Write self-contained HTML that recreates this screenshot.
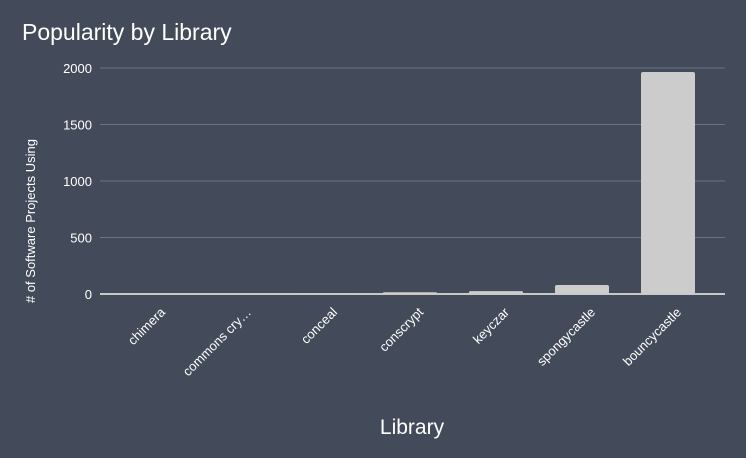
<!DOCTYPE html>
<html><head><meta charset="utf-8"><style>
html,body{margin:0;padding:0;background:#434a59;}
svg{display:block;font-family:"Liberation Sans",sans-serif;}
</style></head><body>
<svg id="chart" width="746" height="458">
<rect width="746" height="458" fill="#434a59"/>
<text x="22" y="40" fill="#ffffff" font-size="23">Popularity by Library</text>
<text transform="translate(35,221) rotate(-90)" text-anchor="middle" fill="#ffffff" font-size="13"># of Software Projects Using</text>
<text x="412" y="434" text-anchor="middle" fill="#ffffff" font-size="21">Library</text>
<g id="grid"></g><g id="bars"></g><g id="xlabels"></g>
</svg>
<script>
const categories = ["chimera","commons cry…","conceal","conscrypt","keyczar","spongycastle","bouncycastle"];
const values = [1, 1, 2, 15, 25, 80, 1965];
const yTicks = [0, 500, 1000, 1500, 2000];

const ns = "http://www.w3.org/2000/svg";
const gridLeft = 100, gridRight = 725;
const bandLeft = 109, bandRight = 711, plotTop = 68, plotBase = 294, yMax = 2000;
const yScale = v => plotBase - (v / yMax) * (plotBase - plotTop);
const step = (bandRight - bandLeft) / categories.length;
const xScale = i => bandLeft + step * (i + 0.5);
const barW = 54;

const grid = document.getElementById('grid');
yTicks.forEach(t => {
  const l = document.createElementNS(ns, 'line');
  l.setAttribute('x1', gridLeft); l.setAttribute('x2', gridRight);
  l.setAttribute('y1', yScale(t)); l.setAttribute('y2', yScale(t));
  l.setAttribute('stroke', t === 0 ? '#c8c8c8' : '#6b7283');
  l.setAttribute('stroke-width', t === 0 ? 2 : 1);
  
  
  grid.appendChild(l);
  const tx = document.createElementNS(ns, 'text');
  tx.setAttribute('x', 92); tx.setAttribute('y', yScale(t) + 5);
  tx.setAttribute('text-anchor', 'end'); tx.setAttribute('fill', '#ffffff');
  tx.setAttribute('font-size', '13');
  tx.textContent = t;
  
  
  grid.appendChild(tx);
});

const bars = document.getElementById('bars');
const xl = document.getElementById('xlabels');
categories.forEach((c, i) => {
  const h = plotBase - yScale(values[i]);
  const r = document.createElementNS(ns, 'rect');
  r.setAttribute('x', xScale(i) - barW / 2); r.setAttribute('y', yScale(values[i]));
  r.setAttribute('width', barW); r.setAttribute('height', Math.max(h, 0));
  r.setAttribute('rx', Math.min(2, h / 2));
  r.setAttribute('fill', '#cccccc');
  
  
  bars.appendChild(r);
  const t = document.createElementNS(ns, 'text');
  const ax = xScale(i) + 14, ay = 313;
  t.setAttribute('transform', `translate(${ax},${ay}) rotate(-45)`);
  t.setAttribute('text-anchor', 'end'); t.setAttribute('fill', '#ffffff');
  t.setAttribute('font-size', '13');
  t.textContent = c;
  
  
  xl.appendChild(t);
});
</script>
</body></html>
